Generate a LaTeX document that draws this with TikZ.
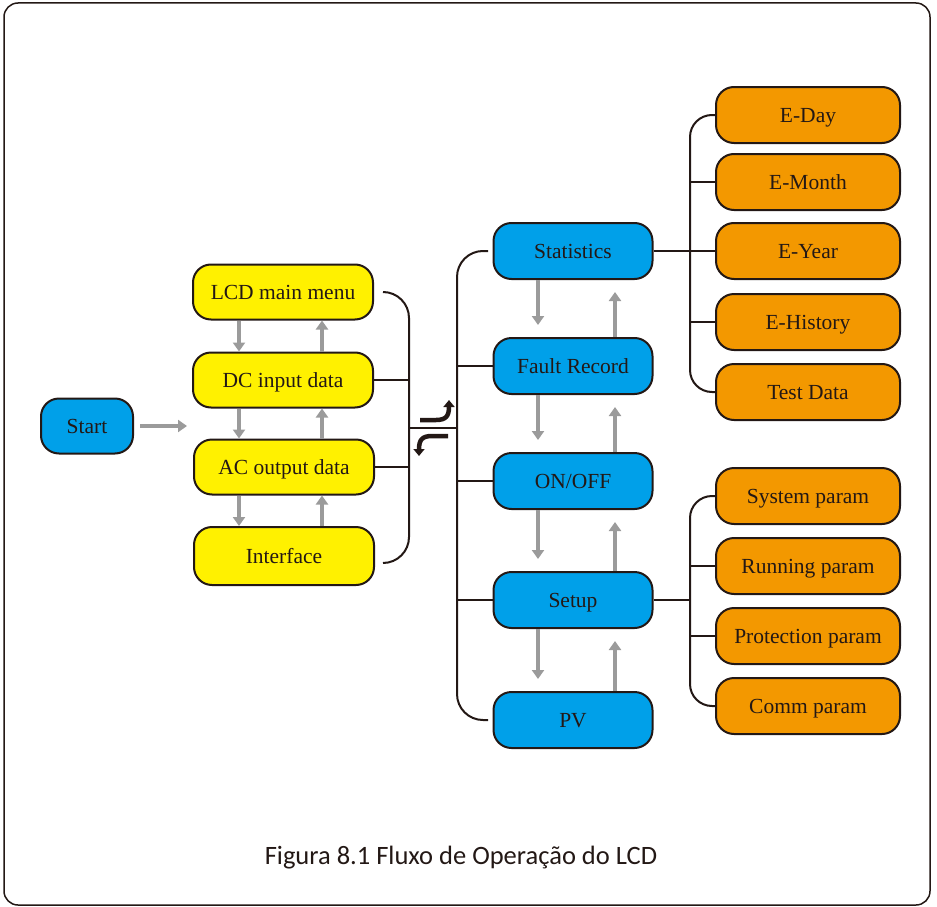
\documentclass[tikz,border=0pt]{standalone}
\usepackage{fontspec}
\setmainfont{Liberation Serif}
\newfontfamily\capfont{Carlito}
\usetikzlibrary{arrows.meta}
\definecolor{cblue}{HTML}{00A0E9}
\definecolor{cyellow}{HTML}{FFF100}
\definecolor{corange}{HTML}{F39800}
\definecolor{cgray}{HTML}{9B9B9B}
\definecolor{cdark}{HTML}{231815}
\tikzset{
  boxbase/.style={draw=cdark, line width=2pt, rounded corners=18pt, inner sep=0pt, align=center, text=cdark, text height=17pt, text depth=3pt, font=\fontsize{21.5}{24}\selectfont},
  bluebox/.style={boxbase, fill=cblue, minimum width=159pt, minimum height=56pt},
  yelbox/.style={boxbase, fill=cyellow, minimum width=180pt, minimum height=55pt},
  orbox/.style={boxbase, fill=corange, minimum width=184pt, minimum height=56pt},
  conn/.style={draw=cdark, line width=2pt},
  garrow/.style={draw=cgray, line width=4pt, -{Triangle[width=12pt,length=9pt]}},
  barrow/.style={draw=cdark, line width=4.5pt, -{Triangle[width=11pt,length=7pt]}}
}
\begin{document}
\begin{tikzpicture}[x=1pt,y=-1pt]
\useasboundingbox (0,0) rectangle (937,907);
\draw[cdark, line width=1.5pt, rounded corners=14pt] (4,3) rectangle (930,905);

% start
\node[bluebox, minimum width=92pt, minimum height=55pt] (start) at (87,426) {Start};

% yellow
\node[yelbox] (lcd) at (283,292) {LCD main menu};
\node[yelbox] (dc) at (283,380) {DC input data};
\node[yelbox] (ac) at (284,467) {AC output data};
\node[yelbox, minimum height=58pt] (iface) at (284,556) {Interface};

% blue
\node[bluebox] (stat) at (573,251) {Statistics};
\node[bluebox] (fault) at (573,366) {Fault Record};
\node[bluebox] (onoff) at (573,481) {ON/OFF};
\node[bluebox] (setup) at (573,600) {Setup};
\node[bluebox] (pv) at (573,720) {PV};

% orange
\node[orbox] (eday) at (808,115) {E-Day};
\node[orbox] (emonth) at (808,182) {E-Month};
\node[orbox] (eyear) at (808,251) {E-Year};
\node[orbox] (ehist) at (808,322) {E-History};
\node[orbox] (test) at (808,392) {Test Data};
\node[orbox] (sys) at (808,496) {System param};
\node[orbox] (run) at (808,566) {Running param};
\node[orbox] (prot) at (808,636) {Protection param};
\node[orbox] (comm) at (808,706) {Comm param};

% start arrow
\coordinate (sa) at (187,426);
\draw[garrow] ([xshift=6pt]start.east) -- (sa);

% yellow arrows
\foreach \a/\b in {lcd/dc, dc/ac, ac/iface}{
  \draw[garrow] (239,0 |- \a.south) -- (239,0 |- \b.north);
  \draw[garrow] (322,0 |- \b.north) -- (322,0 |- \a.south);
}

% blue arrows
\foreach \a/\b in {stat/fault, fault/onoff, onoff/setup, setup/pv}{
  \draw[garrow, shorten >=12pt] (538,0 |- \a.south) -- (538,0 |- \b.north);
  \draw[garrow, shorten >=12pt] (615,0 |- \b.north) -- (615,0 |- \a.south);
}

% left bracket
\coordinate (lb1) at (383,292);
\coordinate (lb2) at (383,563);
\draw[conn, rounded corners=26pt] (lb1) -- (409,292) -- (409,563) -- (lb2);
\draw[conn] (dc.east) -- (409,0 |- dc.east);
\draw[conn] (ac.east) -- (409,0 |- ac.east);
\coordinate (mid1) at (409,428);
\coordinate (mid2) at (457,428);
\draw[conn] (mid1) -- (mid2);

% right bracket
\coordinate (rb1) at (488,251);
\coordinate (rb2) at (488,720);
\draw[conn, rounded corners=26pt] (rb1) -- (457,251) -- (457,720) -- (rb2);
\draw[conn] (457,0 |- fault.west) -- (fault.west);
\draw[conn] (457,0 |- onoff.west) -- (onoff.west);
\draw[conn] (457,0 |- setup.west) -- (setup.west);

% black switch arrows
\coordinate (ba1) at (420,420);
\coordinate (ba2) at (449,400);
\draw[barrow] (ba1) -- (436,420) .. controls (446,420) and (449,416) .. (ba2);
\coordinate (bb1) at (448,436);
\coordinate (bb2) at (419,456);
\draw[barrow] (bb1) -- (432,436) .. controls (422,436) and (419,440) .. (bb2);

% statistics bracket
\draw[conn] (stat.east) -- (eyear.west);
\draw[conn, rounded corners=22pt] (eday.west) -- (690,115) -- (690,392) -- (test.west);
\draw[conn] (690,0 |- emonth.west) -- (emonth.west);
\draw[conn] (690,0 |- ehist.west) -- (ehist.west);

% setup bracket
\draw[conn] (setup.east) -- (690,0 |- setup.east);
\draw[conn, rounded corners=22pt] (sys.west) -- (690,496) -- (690,706) -- (comm.west);
\draw[conn] (690,0 |- run.west) -- (run.west);
\draw[conn] (690,0 |- prot.west) -- (prot.west);

% caption
\node[text=cdark, font=\capfont\fontsize{26.5}{30}\selectfont] (cap) at (461,858) {Figura 8.1 Fluxo de Operação do LCD};
\end{tikzpicture}
\end{document}
